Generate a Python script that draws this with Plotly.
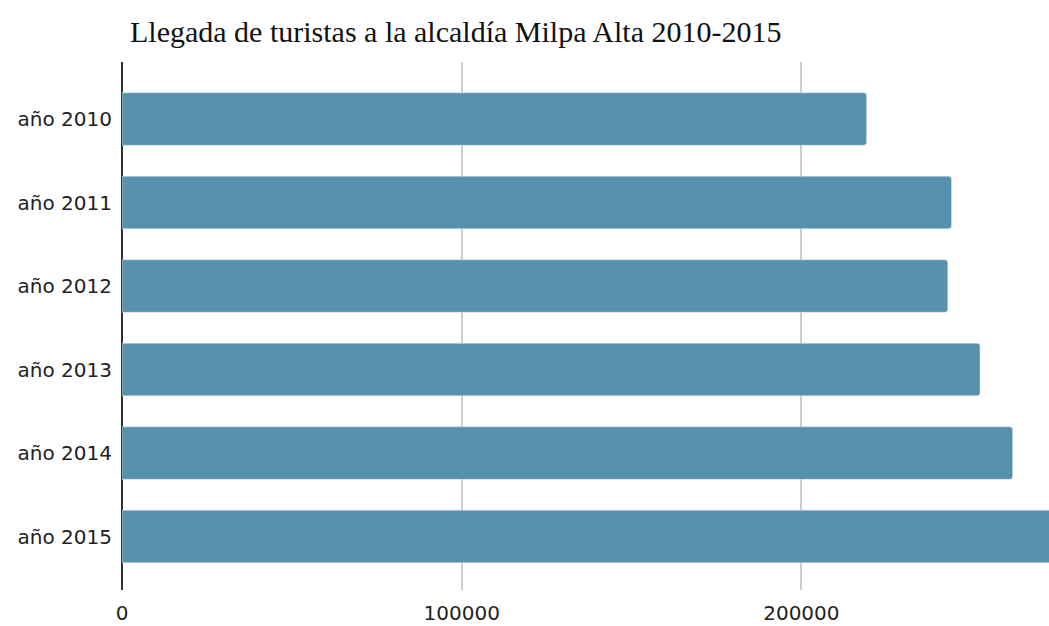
import plotly.graph_objects as go

years = ["año 2010", "año 2011", "año 2012", "año 2013", "año 2014", "año 2015"]
tourists = [219200, 244200, 243100, 252600, 262200, 285000]
x_ticks = [0, 100000, 200000]

W, H = 1049, 626

fig = go.Figure(go.Bar(
    x=tourists,
    y=years,
    orientation="h",
    marker=dict(color="#5891ad", cornerradius=3),
    width=0.63,
))

fig.update_layout(
    width=W, height=H,
    margin=dict(l=122, r=0, t=62, b=36),
    paper_bgcolor="white", plot_bgcolor="white",
    showlegend=False,
    title=dict(
        text="Llegada de turistas a la alcaldía Milpa Alta 2010-2015",
        x=130 / W, xanchor="left", y=1 - 31 / H, yanchor="middle",
        font=dict(family="Liberation Serif", size=30, color="#111"),
    ),
    font=dict(family="DejaVu Sans", size=20, color="#222"),
)
fig.update_xaxes(
    range=[0, 272900], tickvals=x_ticks, ticktext=[str(v) for v in x_ticks],
    showgrid=True, gridcolor="#cccccc", gridwidth=2,
    zeroline=True, zerolinecolor="#333333", zerolinewidth=2,
    showline=False, ticks="", ticklabelstandoff=9,
)
fig.update_yaxes(
    categoryorder="array", categoryarray=years,
    range=[5.64, -0.683], showgrid=False, zeroline=False, showline=False,
    ticks="", ticklabelstandoff=9,
)

# drop the default page margin so the figure fills the window exactly
fig.write_html(
    "out.html",
    config={"displayModeBar": False},
    post_script="document.body.style.margin='0';",
)
